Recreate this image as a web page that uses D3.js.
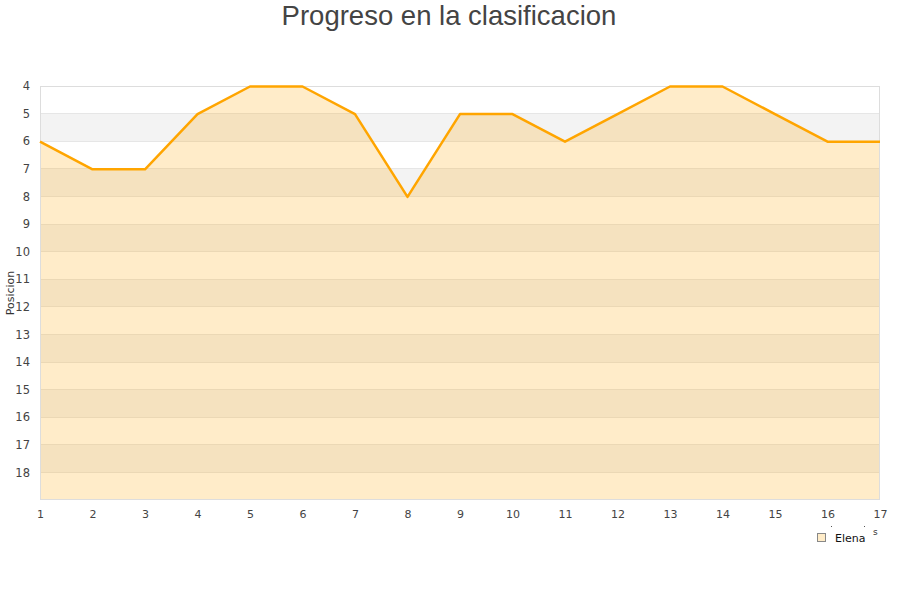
<!DOCTYPE html>
<html><head><meta charset="utf-8">
<script src="https://cdn.jsdelivr.net/npm/d3@7"></script>
<style>body{margin:0;background:#fff;} svg{display:block;}</style>
</head><body>
<svg id="c" width="900" height="600"></svg>
<script>
const jornadas = [1,2,3,4,5,6,7,8,9,10,11,12,13,14,15,16,17];
const elena = [6,7,7,5,4,4,5,8,5,5,6,5,4,4,5,6,6];
const yTicks = [4,5,6,7,8,9,10,11,12,13,14,15,16,17,18];
const title = "Progreso en la clasificacion";
const yTitle = "Posicion";
const seriesName = "Elena";

const svg = d3.select("#c");
const L = 40, R = 880, T = 86, B = 500;
const x = d3.scaleLinear().domain([1,17]).range([L,R]);
const y = d3.scaleLinear().domain([4,19]).range([T,B]);

// bands
const bands = d3.range(4,19);
svg.append("g").selectAll("rect").data(bands).join("rect")
  .attr("x", L).attr("width", R-L)
  .attr("y", d=>y(d)).attr("height", d=>y(d+1)-y(d))
  .attr("fill", d=> d%2===1 ? "#f3f3f3" : "#ffffff");
svg.append("g").selectAll("line").data(bands.slice(1)).join("line")
  .attr("x1", L).attr("x2", R).attr("y1", d=>y(d)).attr("y2", d=>y(d))
  .attr("stroke", "#e6e6e6").attr("stroke-width",1).attr("shape-rendering","crispEdges");

// area
const area = d3.area().x((d,i)=>x(jornadas[i])).y0(y(19)).y1(d=>y(d));
svg.append("path").datum(elena).attr("d", area)
  .attr("fill","orange").attr("fill-opacity",0.21);

// border
svg.append("rect").attr("x",L+0.5).attr("y",T+0.5).attr("width",R-L-1).attr("height",B-T-1)
  .attr("fill","none").attr("stroke","#dddddd");

// line
const line = d3.line().x((d,i)=>x(jornadas[i])).y(d=>y(d)+0.5);
svg.append("path").datum(elena).attr("d", line)
  .attr("fill","none").attr("stroke","#ffa500").attr("stroke-width",2.5).attr("stroke-linejoin","round");

// y axis
const yAxis = d3.axisLeft(y).tickValues(yTicks).tickSize(0).tickPadding(10);
const gy = svg.append("g").attr("transform",`translate(${L},0)`).call(yAxis);
gy.select(".domain").remove();
gy.selectAll("text").attr("font-family","DejaVu Sans").attr("font-size",11.5).attr("fill","#444");

// x axis
const xAxis = d3.axisBottom(x).tickValues(jornadas).tickSize(0).tickPadding(10).tickFormat(d3.format("d"));
const gx = svg.append("g").attr("transform",`translate(0,${B})`).call(xAxis);
gx.select(".domain").remove();
gx.selectAll("text").attr("font-family","DejaVu Sans").attr("font-size",11).attr("fill","#444");

// title
svg.append("text").attr("x",449).attr("y",25).attr("text-anchor","middle")
  .attr("font-family","Liberation Sans").attr("font-size",27.5).attr("fill","#444").text(title);

// y title
svg.append("text").attr("transform","translate(14,293) rotate(-90)").attr("text-anchor","middle")
  .attr("font-family","DejaVu Sans").attr("font-size",11).attr("fill","#333").text(yTitle);

// legend
svg.append("rect").attr("x",817.5).attr("y",533.5).attr("width",8).attr("height",8)
  .attr("fill","#ffecc8").attr("stroke","#888");
svg.append("text").attr("x",835).attr("y",541.5).attr("font-family","DejaVu Sans").attr("font-size",11)
  .attr("fill","#111").text(seriesName);
svg.append("text").attr("x",873).attr("y",535).attr("font-family","DejaVu Sans").attr("font-size",9)
  .attr("fill","#333").text("s");
svg.append("g").selectAll("rect").data([831,864]).join("rect")
  .attr("x",d=>d).attr("y",526).attr("width",1).attr("height",1).attr("fill","#555");
</script>
</body></html>
